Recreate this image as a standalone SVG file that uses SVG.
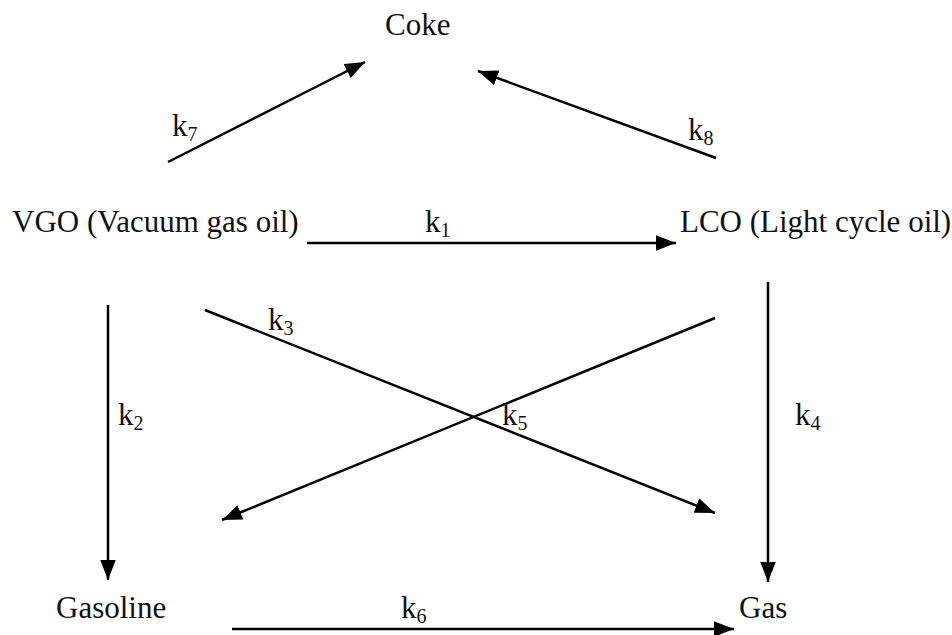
<svg xmlns="http://www.w3.org/2000/svg" width="952" height="635" viewBox="0 0 952 635">
<style>
text{font-family:'Liberation Serif','Times New Roman',serif;font-size:31px;fill:#111}
.s{font-size:20px}
.c{stroke:#000;stroke-width:2.5;fill:none;marker-end:url(#ah)}
</style>
<defs>
<marker id="ah" markerUnits="userSpaceOnUse" markerWidth="20" markerHeight="16" refX="18" refY="7" orient="auto" viewBox="0 0 18 14">
<path d="M0,0 L18,7 L0,14 z" fill="#000"/>
</marker>
</defs>
<rect width="952" height="635" fill="#fff"/>
<g id="connectors">
<line class="c" x1="168" y1="162" x2="365" y2="62"/>
<line class="c" x1="716" y1="158" x2="478" y2="71"/>
<line class="c" x1="307" y1="243" x2="676" y2="243"/>
<line class="c" x1="108" y1="305" x2="108" y2="580"/>
<line class="c" x1="205" y1="310" x2="715" y2="513"/>
<line class="c" x1="715" y1="318" x2="222" y2="520"/>
<line class="c" x1="768" y1="282" x2="768" y2="582"/>
<line class="c" x1="232" y1="629" x2="734" y2="629"/>
</g>
<g id="labels">
<text x="172" y="136">k<tspan class="s" dy="5">7</tspan></text>
<text x="688" y="140">k<tspan class="s" dy="5">8</tspan></text>
<text x="425" y="232">k<tspan class="s" dy="5">1</tspan></text>
<text x="118" y="425">k<tspan class="s" dy="5">2</tspan></text>
<text x="268" y="330">k<tspan class="s" dy="5">3</tspan></text>
<text x="795" y="425">k<tspan class="s" dy="5">4</tspan></text>
<text x="502" y="425">k<tspan class="s" dy="5">5</tspan></text>
<text x="401" y="618">k<tspan class="s" dy="5">6</tspan></text>
</g>
<g id="coke"><text x="385" y="35">Coke</text></g>
<g id="vgo"><text x="12" y="232">VGO (Vacuum gas oil)</text></g>
<g id="lco"><text x="680" y="232">LCO (Light cycle oil)</text></g>
<g id="gasoline"><text x="56" y="618">Gasoline</text></g>
<g id="gas"><text x="739" y="618">Gas</text></g>
</svg>
